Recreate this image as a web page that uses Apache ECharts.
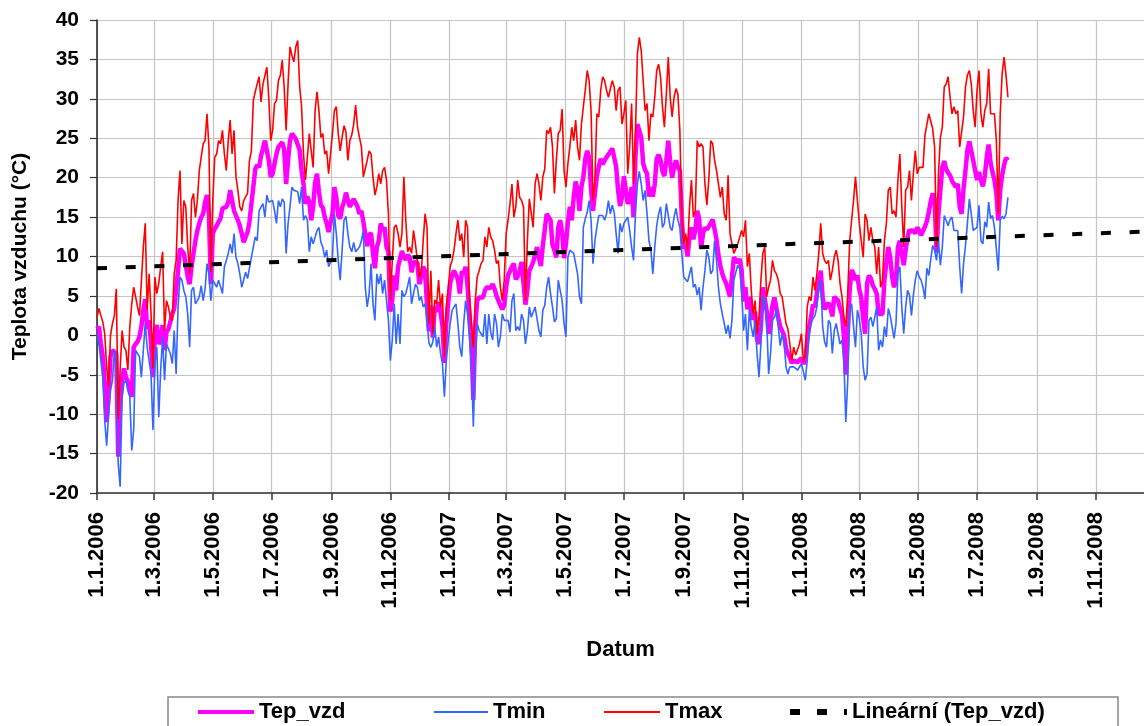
<!DOCTYPE html>
<html>
<head>
<meta charset="utf-8">
<script src="https://cdn.jsdelivr.net/npm/echarts@6/dist/echarts.min.js"></script>
<style>
html,body{margin:0;padding:0;background:#fff;}
#chart{width:1144px;height:726px;}
</style>
</head>
<body>
<div id="chart"></div>
<script>
// ---- data (daily observations read every 2nd day, starting 1.1.2006) ----
const startDate = '1.1.2006';
const stepDays = 2;
const axisEndDate = '21.12.2008';
const tickLabels = ['1.1.2006','1.3.2006','1.5.2006','1.7.2006','1.9.2006','1.11.2006',
  '1.1.2007','1.3.2007','1.5.2007','1.7.2007','1.9.2007','1.11.2007',
  '1.1.2008','1.3.2008','1.5.2008','1.7.2008','1.9.2008','1.11.2008'];
const seriesNames = ['Tep_vzd', 'Tmin', 'Tmax', 'Lineární (Tep_vzd)'];
// linear trend of Tep_vzd: value at axis start and at axis end
const trendValues = [8.5, 13.15];

const tepVzd = [
0.8,1.1,-1.1,-2.7,-6.1,-11.0,-7.5,-2.7,-1.9,-1.7,
-2.3,-15.4,-9.0,-5.5,-4.2,-5.3,-5.9,-7.0,-7.8,-1.5,
-1.1,-0.8,-0.2,1.1,3.2,4.6,0.8,1.9,-1.1,-5.3,
0.2,1.3,-1.1,-0.6,1.3,-1.9,0.4,0.8,1.7,2.7,
3.4,3.6,8.2,11.0,11.0,10.4,8.9,7.4,6.5,8.7,
10.4,12.0,13.3,14.2,15.0,15.4,16.9,17.8,15.4,6.5,
12.9,13.5,13.9,14.4,14.8,16.1,16.1,16.3,16.9,18.4,
17.1,15.8,15.2,14.6,13.9,12.9,11.8,
11.8,13.1,14.4,16.7,18.8,21.1,21.6,21.3,22.8,23.7,
24.7,24.7,22.2,20.1,20.5,21.8,23.0,23.9,23.7,24.5,
23.5,19.2,22.2,24.7,25.6,25.4,24.9,24.8,23.5,20.9,
19.2,16.7,17.6,16.9,14.6,16.3,19.4,20.5,18.2,16.5,
16.2,15.0,14.2,13.1,13.3,15.4,18.8,17.5,15.2,14.8,
16.2,16.9,18.1,17.1,16.3,16.1,17.3,17.5,16.3,15.4,
15.8,14.4,12.9,11.3,12.7,13.0,10.4,8.5,11.2,12.0,
14.2,13.3,13.7,11.2,10.6,3.0,4.5,7.6,5.7,8.7,
8.7,10.7,9.9,9.6,10.2,9.9,8.0,9.3,9.3,9.2,
6.5,7.4,8.7,8.2,3.8,0.5,3.8,-0.3,3.6,3.0,
4.2,3.0,1.2,-3.5,1.5,4.2,6.6,7.6,8.2,8.1,
7.1,5.3,8.1,7.8,8.7,6.3,2.6,-0.8,-8.2,1.1,
4.4,4.8,4.8,4.8,5.7,6.1,6.0,6.0,6.5,5.9,
5.0,4.4,3.8,3.3,3.8,6.1,7.6,7.8,8.7,9.1,
7.1,7.5,8.2,9.3,9.1,3.9,5.7,8.2,8.7,9.3,
10.2,11.2,9.8,8.8,11.4,13.4,15.4,15.4,14.6,11.5,
10.8,
9.9,13.7,14.6,13.1,9.8,11.6,14.4,16.3,14.6,17.5,
19.5,18.5,15.8,18.8,20.1,22.4,23.4,22.5,18.5,15.8,
18.0,20.2,21.4,22.4,21.7,21.7,22.6,22.4,23.3,23.7,
23.5,21.4,18.4,16.4,17.5,20.2,20.2,16.7,17.1,18.8,
15.0,22.6,26.8,27.0,25.1,21.8,21.0,20.5,17.6,18.8,
17.6,19.2,22.4,22.9,22.2,20.8,20.2,22.2,24.7,22.0,
20.0,21.3,22.2,21.3,20.9,15.0,11.0,11.5,10.0,12.4,
13.7,12.2,13.3,15.8,14.8,11.0,12.9,13.7,13.4,13.2,
14.2,
14.7,14.5,12.2,10.2,8.8,7.8,7.1,6.6,6.6,4.9,
7.4,9.9,9.8,9.2,9.7,8.3,4.3,6.1,3.3,4.9,
2.9,2.0,3.0,-0.5,-1.1,1.1,6.1,6.1,3.1,0.2,
1.5,3.8,4.8,4.6,2.2,1.1,1.1,0.0,-1.6,-2.3,
-2.8,-3.5,-3.2,-3.3,-3.4,-3.2,-2.9,-3.6,-3.2,-0.6,
1.1,2.3,3.9,3.6,5.3,7.0,8.2,4.8,3.3,3.1,
4.1,3.6,2.4,4.9,5.1,4.4,3.4,2.7,-0.1,-5.0,
0.2,5.7,8.3,7.8,7.0,7.6,5.8,4.8,2.1,0.2,
6.6,7.6,7.2,6.3,5.9,5.3,2.7,2.7,2.7,7.0,
9.3,11.2,9.9,7.4,6.1,7.0,11.2,12.0,10.4,8.9,
10.8,12.5,13.4,13.1,13.4,12.9,13.7,13.3,12.7,12.9,
13.8,14.5,15.6,17.0,18.0,17.3,10.5,15.4,18.4,21.3,
22.1,21.1,20.6,20.3,19.6,19.4,18.8,19.2,16.3,15.4,
18.6,20.9,23.5,24.6,23.4,22.2,20.9,19.7,20.7,19.7,
18.9,20.2,22.6,24.2,21.9,20.7,19.7,18.0,14.6,18.4,
20.3,21.6,22.5,22.2
];

const tMin = [
0.2,-1.1,-3.2,-5.3,-10.8,-14.0,-10.0,-7.0,-5.7,-1.9,
-3.6,-16.3,-19.2,-7.8,-6.0,-5.7,-7.0,-7.8,-14.6,-12.0,
-1.9,-2.3,-2.7,-5.3,-1.9,1.5,-1.5,-3.2,-4.9,-12.0,
-3.6,-1.5,-10.4,-4.4,-0.2,-5.7,-1.1,-1.1,-2.3,-3.6,
0.6,-4.9,3.6,7.4,7.0,5.7,4.9,2.7,-1.5,5.7,
6.1,4.0,4.4,4.9,6.3,4.4,5.9,9.1,7.8,4.4,
7.0,6.6,6.1,7.0,7.0,5.3,8.7,9.5,10.4,11.6,
10.4,12.9,9.9,9.1,7.8,6.1,6.1,
8.0,7.2,7.0,9.9,11.2,12.5,12.0,15.8,16.3,16.7,
15.0,17.8,16.9,16.7,17.1,15.8,14.2,17.1,16.3,17.3,
16.9,10.4,14.2,16.3,18.8,18.4,18.6,18.2,16.7,18.8,
14.6,15.2,14.6,10.6,12.5,11.6,11.4,13.3,13.7,11.8,
11.2,9.9,10.8,8.7,8.7,9.9,15.4,12.9,9.5,7.0,
10.8,14.6,15.1,12.9,11.2,10.6,11.8,10.6,10.4,11.2,
12.0,13.3,6.1,3.6,5.3,9.1,4.0,1.9,7.8,6.5,
7.8,5.3,7.0,7.0,1.9,-3.2,-0.6,4.0,-1.1,2.7,
-1.1,5.7,4.9,5.3,6.3,7.4,4.0,5.3,6.5,6.1,
4.4,4.9,3.6,4.0,1.9,-1.0,-1.5,-0.8,1.1,-1.5,
-0.2,-2.3,-3.6,-7.8,-3.2,-0.6,1.5,3.2,3.6,4.0,
1.5,-1.5,-2.7,1.5,4.4,2.7,-0.4,-3.6,-11.6,-3.2,
1.5,0.6,0.2,-0.2,2.7,-1.1,2.7,0.4,-0.6,2.7,
1.5,-1.5,-0.2,2.7,1.9,1.9,1.9,0.4,4.4,5.3,
0.6,1.1,0.6,2.7,1.9,-1.1,0.6,3.6,2.3,2.1,
3.6,3.6,0.6,-0.2,3.2,3.8,6.1,7.4,5.3,3.6,
1.7,
2.1,7.0,7.0,4.4,1.5,-0.2,9.9,10.8,10.8,10.4,
10.4,7.8,4.9,4.0,13.7,14.8,15.6,17.1,14.6,9.1,
12.0,13.7,15.2,15.4,15.2,14.6,15.4,17.1,15.4,16.5,
15.6,12.9,10.4,14.2,13.1,14.2,14.2,15.0,13.3,11.2,
9.5,15.4,19.2,20.8,19.2,17.1,18.4,15.4,12.0,10.8,
7.8,11.2,13.9,15.4,16.3,13.7,14.2,16.7,16.7,13.7,
13.3,15.0,16.1,14.6,13.7,10.4,7.4,7.4,6.8,7.0,
8.7,6.1,6.5,5.1,6.1,3.2,6.1,8.2,10.8,9.9,
7.8,
8.2,12.0,9.5,6.1,4.0,2.7,1.5,0.2,1.3,-0.4,
1.9,7.0,8.0,8.9,8.5,5.7,0.6,2.7,-1.9,3.2,
1.1,-0.2,1.9,-2.3,-5.3,-1.1,4.9,4.4,2.0,-4.9,
-2.3,1.9,2.3,3.2,1.1,-1.3,0.2,-0.8,-4.0,-4.9,
-4.0,-4.2,-4.0,-4.2,-4.4,-4.2,-3.6,-4.6,-5.7,-3.2,
0.2,1.7,1.5,2.5,3.6,6.1,7.0,1.1,-0.8,-1.5,
1.9,1.5,-2.3,0.6,1.5,0.2,-1.1,-0.6,-3.2,-11.0,
-5.7,3.2,4.0,1.1,-1.5,3.2,2.1,0.2,-4.0,-5.7,
-4.9,1.9,2.3,1.1,2.3,3.6,-1.9,-0.6,-1.5,1.1,
-0.2,3.4,2.5,2.3,-0.4,1.5,7.8,8.7,3.6,0.2,
3.6,5.7,5.1,2.5,5.1,7.0,8.2,7.4,7.0,6.1,
4.6,8.5,7.6,9.6,11.4,10.8,9.5,12.0,8.9,11.2,
15.2,15.0,13.9,14.7,15.0,13.3,13.3,13.3,8.7,5.3,
9.1,11.4,14.2,17.3,15.4,13.3,13.3,13.7,16.5,12.0,
11.6,14.4,13.7,16.9,14.8,15.2,13.7,13.7,8.2,14.6,
15.1,14.8,15.4,17.5
];

const tMax = [
2.3,3.4,2.5,1.7,0.2,-4.0,-6.5,0,1.5,2.5,
5.9,-10.6,-4.2,0.6,-1.5,-1.9,-4.4,1.1,4.0,6.1,
4.9,3.6,2.5,2.7,11.2,14.2,3.2,7.8,2.7,-4.2,
7.4,5.3,6.6,8.7,10.6,0.6,4.4,3.6,2.3,1.9,
7.8,9.5,17.1,20.9,11.6,17.1,16.3,11.2,7.8,17.1,
18.0,15.0,17.1,20.9,22.6,24.3,24.7,28.1,23.9,8.0,
17.1,22.6,23.0,24.7,24.3,26.0,23.0,20.9,24.7,27.3,
23.0,26.0,20.1,18.4,16.3,15.8,17.1,
17.1,18.0,22.2,23.4,29.8,30.9,31.9,32.8,29.6,31.9,
31.9,34.0,30.2,24.7,26.0,29.4,29.8,32.3,33.0,34.9,
31.4,26.0,31.9,36.6,35.5,34.7,36.6,37.4,31.6,29.0,
23.0,19.7,22.6,25.6,23.4,21.3,28.5,30.9,28.5,25.1,
25.6,23.0,23.4,20.5,23.0,25.6,28.5,29.0,25.6,23.4,
25.1,26.6,25.8,22.2,24.7,25.4,26.8,29.2,26.4,25.1,
23.9,20.1,20.1,22.2,23.4,23.0,20.1,17.8,18.8,20.5,
19.2,20.9,21.3,19.7,15.4,4.4,9.5,13.7,14.0,12.9,
11.2,12.9,20.1,14.6,10.6,11.2,10.4,13.3,11.6,9.5,
7.4,7.8,12.0,15.4,13.7,1.5,8.2,0.2,4.5,4.0,
7.0,3.6,5.3,-2.7,3.6,6.0,8.7,9.5,10.8,12.9,
14.6,12.0,12.9,9.9,14.6,13.7,4.9,1.5,-1.5,4.4,
7.4,8.2,9.1,9.5,12.5,11.2,13.7,12.5,12.0,10.8,
9.1,9.5,6.1,4.4,7.0,12.9,14.6,16.7,19.2,15.0,
16.3,19.7,17.5,17.1,16.3,4.4,12.0,17.3,17.1,13.7,
19.2,20.5,19.2,17.1,20.1,21.1,26.0,25.6,26.4,23.9,
18.0,
22.2,25.6,26.0,28.7,20.9,18.8,21.8,23.9,26.4,24.7,
27.3,23.9,22.2,26.8,29.0,31.1,33.6,32.3,28.5,17.1,
19.7,28.1,27.7,31.1,32.8,32.3,31.1,30.2,31.3,32.3,
31.5,28.5,31.1,31.5,26.8,28.1,29.8,20.5,23.9,29.4,
19.2,25.6,35.7,37.8,36.1,32.3,28.5,29.4,24.7,28.1,
27.7,30.2,33.6,34.4,32.8,29.0,26.4,30.6,35.3,30.2,
27.7,30.2,31.3,30.6,26.0,15.4,11.6,12.9,10.8,16.3,
19.7,15.0,15.8,24.7,23.9,24.3,23.9,19.2,16.5,19.7,
24.7,
24.3,22.2,20.9,19.2,17.5,18.8,15.4,14.6,20.3,12.9,
11.6,10.4,10.4,11.6,11.6,13.3,12.5,14.6,8.7,10.4,
5.7,2.7,4.4,0.2,2.3,7.0,10.4,11.2,4.9,6.1,
7.0,9.5,8.2,7.8,7.0,5.3,4.9,3.2,1.5,0.8,
-1.1,-3.2,-1.5,-2.5,-2.3,-1.1,0.2,-3.2,-2.7,3.6,
4.9,4.4,7.4,5.7,7.8,10.4,14.2,10.4,9.5,9.1,
9.5,7.0,8.2,9.9,10.8,9.5,6.6,4.9,2.3,1.1,
5.3,12.0,14.6,17.1,20.1,17.1,14.2,12.0,9.9,15.4,
14.6,12.0,13.7,12.0,11.2,7.8,11.2,6.1,7.0,12.0,
14.2,18.4,18.8,15.4,15.8,15.0,19.7,23.0,16.3,11.2,
18.4,18.8,20.9,17.1,20.5,23.4,20.5,21.3,21.3,21.3,
25.4,25.6,28.1,28.3,26.2,23.9,11.2,20.5,25.1,26.4,
31.5,31.9,32.8,30.2,28.1,29.0,28.1,28.5,23.9,23.9,
27.7,31.5,33.0,33.6,31.9,28.5,26.4,31.1,33.6,28.1,
26.4,28.5,29.4,33.8,28.1,28.1,28.1,24.7,15.4,28.1,
33.2,35.3,33.0,30.2
];

// ---- helpers ----
function parseDate(s) {
  const p = s.split('.').map(Number);
  return Date.UTC(p[2], p[1] - 1, p[0]);
}
const base = parseDate(startDate);
function dayOf(s) { return Math.round((parseDate(s) - base) / 86400000); }
const axisEnd = dayOf(axisEndDate);
const tickDays = tickLabels.map(dayOf);
const labelByDay = {};
tickDays.forEach((d, i) => { labelByDay[d] = tickLabels[i]; });
const toPairs = arr => arr.map((v, i) => [i * stepDays, v]);
const trendData = [[0, trendValues[0]], [axisEnd, trendValues[1]]];

const FONT = 'Liberation Sans, Arial, sans-serif';
const chart = echarts.init(document.getElementById('chart'), null, {renderer: 'canvas'});

function legendFor(name, left, width, height, icon) {
  return {
    data: [name],
    left: left,
    top: 701,
    padding: 0,
    itemWidth: width,
    itemHeight: height,
    icon: icon,
    itemStyle: {borderWidth: 0},
    selectedMode: false,
    textStyle: {fontFamily: FONT, fontSize: 22, fontWeight: 'bold', color: '#000'}
  };
}

chart.setOption({
  animation: false,
  backgroundColor: '#fff',
  textStyle: {fontFamily: FONT},
  grid: {left: 97, right: 0, top: 20, bottom: 233, containLabel: false},
  xAxis: {
    type: 'value',
    min: 0,
    max: axisEnd,
    name: 'Datum',
    nameLocation: 'middle',
    nameGap: 146,
    nameTextStyle: {fontFamily: FONT, fontSize: 22, fontWeight: 'bold', color: '#000'},
    axisLine: {show: true, onZero: false, lineStyle: {color: '#333', width: 1.5}},
    axisTick: {show: true, inside: false, length: 7, customValues: tickDays, lineStyle: {color: '#333', width: 1.5}},
    axisLabel: {
      customValues: tickDays,
      rotate: 90,
      margin: 19,
      fontFamily: FONT, fontSize: 22, fontWeight: 'bold', color: '#000',
      formatter: v => labelByDay[v] || ''
    },
    splitLine: {show: true, lineStyle: {color: '#c4c4c4', width: 1.2}}
  },
  yAxis: {
    type: 'value',
    min: -20,
    max: 40,
    interval: 5,
    name: 'Teplota vzduchu (°C)',
    nameLocation: 'middle',
    nameGap: 66,
    nameTextStyle: {fontFamily: FONT, fontSize: 21, fontWeight: 'bold', color: '#000'},
    axisLine: {show: true, onZero: false, lineStyle: {color: '#222', width: 1.5}},
    axisTick: {show: true, inside: false, length: 7, lineStyle: {color: '#333', width: 1.2}},
    axisLabel: {margin: 18, fontFamily: FONT, fontSize: 21, fontWeight: 'bold', color: '#000'},
    splitLine: {show: true, lineStyle: {color: '#c4c4c4', width: 1.2}}
  },
  legend: [
    legendFor(seriesNames[0], 198, 56, 4, 'rect'),
    legendFor(seriesNames[1], 434, 54, 2, 'rect'),
    legendFor(seriesNames[2], 604, 56, 2, 'rect'),
    legendFor(seriesNames[3], 790, 57, 6, 'path://M0 0h10v6h-10z M27 0h10v6h-10z M54 0h3v6h-3z')
  ],
  graphic: [{
    type: 'rect',
    shape: {x: 168, y: 697, width: 950, height: 60},
    style: {fill: 'none', stroke: '#888', lineWidth: 1.5},
    silent: true,
    z: -1
  }],
  series: [
    {name: seriesNames[0], type: 'line', data: toPairs(tepVzd), symbol: 'none', showSymbol: false,
     color: '#ff00ff', lineStyle: {color: '#ff00ff', width: 4.5}, z: 2},
    {name: seriesNames[1], type: 'line', data: toPairs(tMin), symbol: 'none', showSymbol: false,
     color: '#3366ff', lineStyle: {color: '#3366ff', width: 1.6}, z: 3},
    {name: seriesNames[2], type: 'line', data: toPairs(tMax), symbol: 'none', showSymbol: false,
     color: '#ff0000', lineStyle: {color: '#ff0000', width: 1.6}, z: 4},
    {name: seriesNames[3], type: 'line', data: trendData, symbol: 'none', showSymbol: false,
     color: '#000', lineStyle: {color: '#000', width: 4, type: [10, 18.7], cap: 'butt'}, z: 5}
  ]
});
</script>
</body>
</html>
